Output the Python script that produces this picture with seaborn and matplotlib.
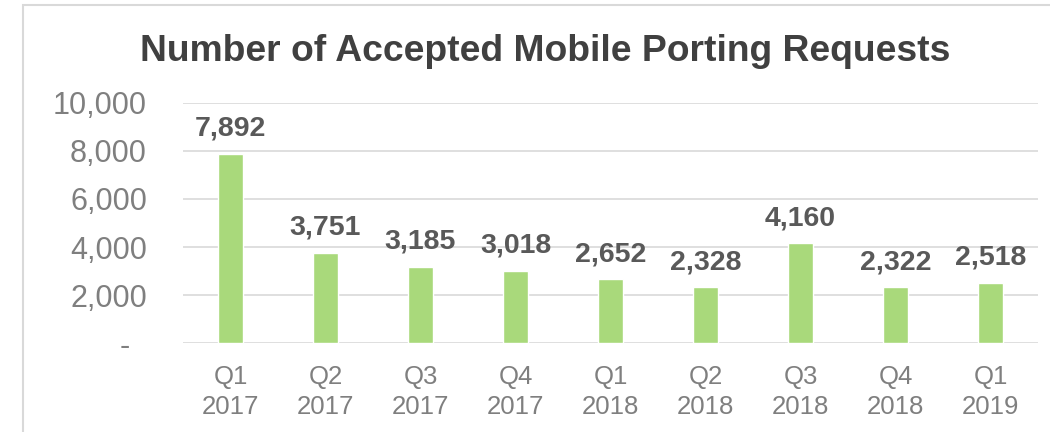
import matplotlib
matplotlib.use("Agg")
import matplotlib.pyplot as plt
import seaborn as sns
import pandas as pd
from matplotlib.patches import Rectangle

# data
quarters = ["Q1\n2017", "Q2\n2017", "Q3\n2017", "Q4\n2017", "Q1\n2018",
            "Q2\n2018", "Q3\n2018", "Q4\n2018", "Q1\n2019"]
requests = [7892, 3751, 3185, 3018, 2652, 2328, 4160, 2322, 2518]
y_ticks = [0, 2000, 4000, 6000, 8000, 10000]
y_tick_labels = ["-  ", "2,000", "4,000", "6,000", "8,000", "10,000"]

df = pd.DataFrame({"quarter": quarters, "requests": requests})

sns.set_style("white")
plt.rcParams["font.family"] = ["Liberation Sans", "DejaVu Sans"]

fig = plt.figure(figsize=(10.5, 4.32), dpi=100)
ax = fig.add_axes([0.1743, 0.206, 0.8143, 0.5556])

sns.barplot(data=df, x="quarter", y="requests", color="#A9D97B",
            saturation=1, width=0.27, ax=ax)

# value labels above bars
for i, v in enumerate(requests):
    ax.annotate(f"{v:,}", (i, v), xytext=(0, 13), textcoords="offset points",
                ha="center", va="baseline", fontsize=20.5, fontweight="bold",
                color="#595959")

ax.set_ylim(0, 10000)
ax.set_xlim(-0.5, len(quarters) - 0.5)
ax.set_yticks(y_ticks)
ax.set_yticklabels(y_tick_labels)
ax.yaxis.grid(True, color="#D9D9D9", linewidth=1.2)
ax.set_axisbelow(True)
for s in ax.spines.values():
    s.set_visible(False)
ax.tick_params(axis="y", length=0, pad=26, labelsize=22, labelcolor="#7F7F7F")
ax.tick_params(axis="x", length=0, pad=16, labelsize=18.5, labelcolor="#7F7F7F")
for t in ax.get_xticklabels():
    t.set_linespacing(1.3)
ax.set_xlabel("")
ax.set_ylabel("")

fig.text(0.519, 1 - 61 / 432, "Number of Accepted Mobile Porting Requests",
         ha="center", va="baseline", fontsize=26.8, fontweight="bold",
         color="#404040")

# chart border (right and bottom run off the image)
fig.patches.append(Rectangle((23 / 1050, -0.1), 1.2, 1 - 5 / 432 + 0.1,
                             transform=fig.transFigure, fill=False,
                             edgecolor="#D9D9D9", linewidth=1.5))

fig.savefig("out.png", dpi=100)
plt.close()
